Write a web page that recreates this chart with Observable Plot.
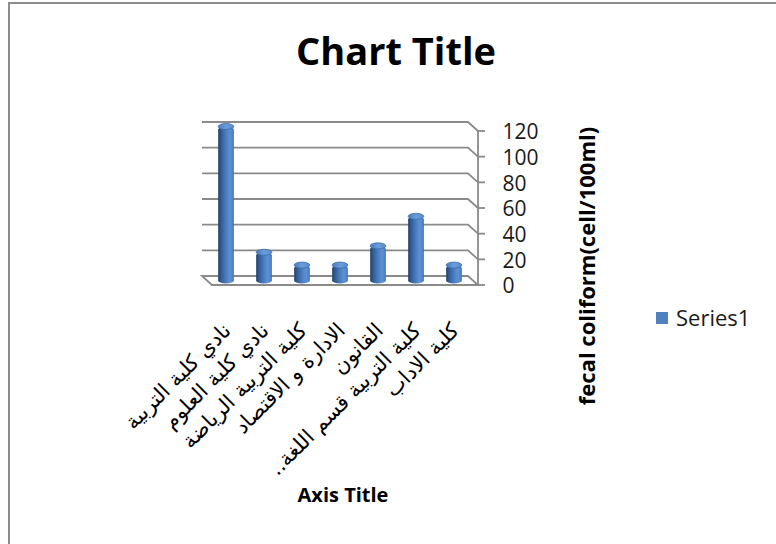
<!DOCTYPE html>
<html>
<head>
<meta charset="utf-8">
<script src="https://cdn.jsdelivr.net/npm/d3@7"></script>
<script src="https://cdn.jsdelivr.net/npm/@observablehq/plot@0.6"></script>
<style>
  html, body { margin: 0; padding: 0; background: #fff; }
  #chart { position: relative; width: 776px; height: 544px; overflow: hidden; }
</style>
</head>
<body>
<div id="chart"></div>
<script>
// Sampling sites (category axis)
const categories = [
  "نادي كلية التربية",
  "نادي كلية العلوم",
  "كلية التربية الرياضة",
  "الادارة و الاقتصاد",
  "القانون",
  "كلية التربية قسم اللغة..\u200F",
  "كلية الاداب"
];
// Fecal coliform counts (cell/100ml)
const values = [120, 22, 12, 12, 27, 50, 12];
const yTicks = [0, 20, 40, 60, 80, 100, 120];
const seriesName = "Series1";
const chartTitle = "Chart Title";
const xTitle = "Axis Title";
const yTitle = "fecal coliform(cell/100ml)";

const rows = categories.map((category, i) => ({i, category, value: values[i]}));
const n = categories.length;
const DX = 5, DY = 4.5;      // half depth of the 3-D box, in pixels
const HALF = 0.206;          // half width of a cylinder, in band units
const grid = "#8a8a8a";

// Back wall gridlines, floor and the front value axis of the 3-D box
function box(index, {x, y}) {
  const g = d3.create("svg:g").attr("fill", "none").attr("stroke", grid).attr("stroke-width", 1.8);
  const xl = x(-0.5), xr = x(n - 0.5), y0 = y(0);
  g.append("path").attr("fill", "#fff")
    .attr("d", `M${xl - DX},${y0 - DY}H${xr - DX}L${xr + DX},${y0 + DY}H${xl + DX}Z`);
  for (const t of yTicks.slice(1)) {
    g.append("path").attr("d", `M${xl - DX},${y(t) - DY}H${xr - DX}L${xr + DX},${y(t) + DY}`);
  }
  g.append("path").attr("d", `M${xr + DX},${y(yTicks[yTicks.length - 1]) + DY}V${y0 + DY}`);
  for (const t of yTicks) g.append("path").attr("d", `M${xr + DX},${y(t) + DY}h7`);
  return g.node();
}

const svg = Plot.plot({
  width: 776,
  height: 544,
  marginLeft: 207,
  marginRight: 303,
  marginTop: 126.5,
  marginBottom: 263.5,
  x: {domain: [-0.5, n - 0.5], axis: null},
  y: {domain: [0, 120], axis: null},
  style: {fontFamily: "'Open Sans', sans-serif", background: "#fff", color: "#1a1a1a", overflow: "visible"},
  marks: [
    box,
    // cylinder bodies
    Plot.rectY(rows, {
      x1: d => d.i - HALF, x2: d => d.i + HALF, y: "value",
      fill: "url(#cyl)", rx: 8, ry: 3, insetBottom: -3
    }),
    // cylinder caps
    Plot.rect(rows, {
      x1: d => d.i - HALF, x2: d => d.i + HALF, y1: "value", y2: "value",
      fill: "url(#cap)", stroke: "#3f6ea8", strokeWidth: 0.8,
      rx: 8, ry: 3, insetTop: -3, insetBottom: -3
    }),
    // value tick labels on the front axis
    Plot.text(yTicks, {
      x: () => n - 0.5, y: d => d, text: d => String(d),
      dx: 29, dy: 5.5, textAnchor: "start", fontSize: 21, fill: "#1a1a1a"
    }),
    // category labels
    Plot.text(rows, {
      x: "i", y: () => 0, text: "category",
      dx: 1, dy: 46, rotate: -45, textAnchor: "end",
      fontSize: 21, fontFamily: "'DejaVu Sans', sans-serif", fill: "#000"
    })
  ]
});

const root = d3.select(svg);
const defs = root.insert("defs", ":first-child");
const cyl = defs.append("linearGradient").attr("id", "cyl").attr("x1", 0).attr("x2", 1).attr("y1", 0).attr("y2", 0);
[[0, "#1e3c68"], [0.12, "#2d5389"], [0.45, "#4679ba"], [0.72, "#5c90d3"], [0.9, "#5388c9"], [1, "#3a679f"]]
  .forEach(([o, c]) => cyl.append("stop").attr("offset", o).attr("stop-color", c));
const cap = defs.append("linearGradient").attr("id", "cap").attr("x1", 0).attr("x2", 1).attr("y1", 0).attr("y2", 0);
[[0, "#4a7cbc"], [0.5, "#6a9ddd"], [1, "#5a8ccc"]]
  .forEach(([o, c]) => cap.append("stop").attr("offset", o).attr("stop-color", c));

// chart frame
root.append("rect").attr("x", 9).attr("y", 3).attr("width", 820).attr("height", 600)
  .attr("fill", "none").attr("stroke", "#8c8c8c").attr("stroke-width", 2);

// titles
root.append("text").attr("x", 396).attr("y", 65).attr("text-anchor", "middle")
  .attr("font-size", 38).attr("font-weight", "bold").attr("fill", "#000").text(chartTitle);
root.append("text").attr("x", 343).attr("y", 502).attr("text-anchor", "middle")
  .attr("font-size", 20).attr("font-weight", "bold").attr("fill", "#000").text(xTitle);
root.append("text").attr("transform", "translate(595,266) rotate(-90)").attr("text-anchor", "middle")
  .attr("font-size", 22).attr("font-weight", "bold").attr("fill", "#000").text(yTitle);

// legend
root.append("rect").attr("x", 656).attr("y", 312).attr("width", 12).attr("height", 12).attr("fill", "#4f81bd");
root.append("text").attr("x", 676).attr("y", 326).attr("text-anchor", "start")
  .attr("font-size", 22).attr("fill", "#1a1a1a").text(seriesName);

document.getElementById("chart").appendChild(svg);
</script>
</body>
</html>
